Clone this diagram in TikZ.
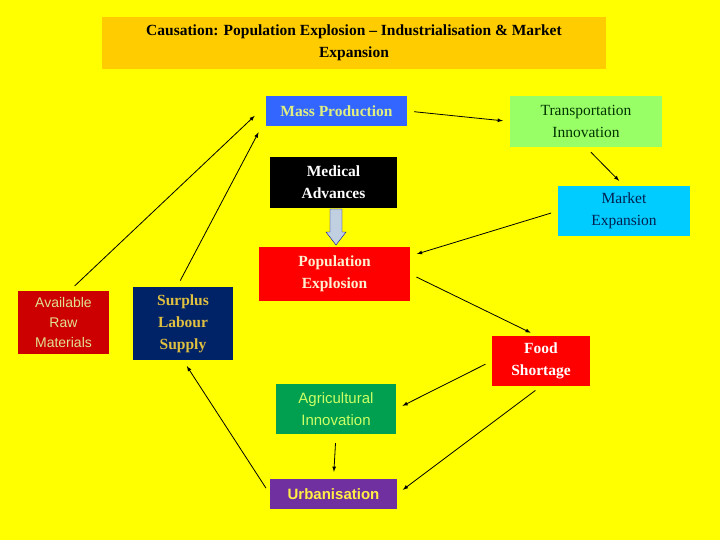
\documentclass[tikz,border=0pt]{standalone}
\usepackage{fontspec}
\setmainfont{Liberation Serif}
\setsansfont{Liberation Sans}
\usetikzlibrary{calc}
\definecolor{bgy}{HTML}{FFFF00}
\definecolor{titleor}{HTML}{FFCC00}
\definecolor{massb}{HTML}{3366FF}
\definecolor{masst}{HTML}{E0F080}
\definecolor{transg}{HTML}{99FF66}
\definecolor{transt}{HTML}{003300}
\definecolor{mktc}{HTML}{00CCFF}
\definecolor{mktt}{HTML}{002050}
\definecolor{popr}{HTML}{FF0000}
\definecolor{popt}{HTML}{FFF0D0}
\definecolor{rawr}{HTML}{CC0000}
\definecolor{rawt}{HTML}{E0E090}
\definecolor{surb}{HTML}{002266}
\definecolor{surt}{HTML}{E0C040}
\definecolor{agrig}{HTML}{00A050}
\definecolor{agrit}{HTML}{CCFF66}
\definecolor{urbp}{HTML}{7030A0}
\definecolor{urbt}{HTML}{FFEE44}
\definecolor{grayar}{HTML}{C0D0E0}
\begin{document}
\begin{tikzpicture}[x=1pt,y=-1pt,
  box/.style={inner sep=0pt,align=center,font=\fontsize{15.5}{22}\selectfont},
  conn/.style={-latex,thick,shorten >=7pt,shorten <=7pt}]
\fill[bgy] (0,0) rectangle (720,540);
\node[box,fill=titleor,minimum width=504pt,minimum height=52pt,font=\fontsize{15.5}{22}\selectfont\bfseries] (title) at (354,43) {Causation: Population Explosion -- Industrialisation \& Market\\Expansion};
\node[box,fill=massb,text=masst,minimum width=141pt,minimum height=30pt,font=\fontsize{15.5}{22}\selectfont\bfseries] (mass) at (336.5,111) {Mass Production};
\node[box,fill=transg,text=transt,minimum width=152pt,minimum height=51pt] (trans) at (586,121.5) {Transportation\\Innovation};
\node[box,fill=black,text=white,minimum width=127pt,minimum height=51pt,font=\fontsize{15.5}{22}\selectfont\bfseries] (med) at (333.5,182.5) {Medical\\Advances};
\node[box,fill=mktc,text=mktt,minimum width=132pt,minimum height=50pt] (mkt) at (624,211) {Market\\Expansion};
\node[box,fill=popr,text=popt,minimum width=151pt,minimum height=54pt,font=\fontsize{15.5}{22}\selectfont\bfseries] (pop) at (334.5,274) {Population\\Explosion};
\node[box,fill=rawr,text=rawt,minimum width=91pt,minimum height=63pt,font=\fontsize{14}{20}\selectfont\sffamily] (raw) at (63.5,322.5) {Available\\Raw\\Materials};
\node[box,fill=surb,text=surt,minimum width=100pt,minimum height=73pt,font=\fontsize{15.5}{22}\selectfont\bfseries] (sur) at (183,323.5) {Surplus\\Labour\\Supply};
\node[box,fill=popr,text=white,minimum width=98pt,minimum height=50pt,font=\fontsize{15.5}{22}\selectfont\bfseries] (food) at (541,361) {Food\\Shortage};
\node[box,fill=agrig,text=agrit,minimum width=120pt,minimum height=50pt,font=\fontsize{15}{22}\selectfont\sffamily] (agri) at (336,409) {Agricultural\\Innovation};
\node[box,fill=urbp,text=urbt,minimum width=127pt,minimum height=30pt,font=\fontsize{15}{22}\selectfont\sffamily\bfseries] (urb) at (333.5,494) {Urbanisation};
% gray block arrow
\draw[blue!70!black,fill=grayar] (330,209) -- (342,209) -- (342,232) -- (346,232) -- (336,245) -- (326,232) -- (330,232) -- cycle;
% connectors
\draw[conn] (mass.east) -- (trans.west);
\draw[conn] (trans.south) -- (mkt.north);
\draw[conn] (mkt.west) -- ($(pop.east)+(0,-18)$);
\draw[conn] (pop.east) -- ($(food.north)+(-4,0)$);
\draw[conn] (food.west) -- (agri.east);
\draw[conn] (food.south) -- (urb.east);
\draw[conn,shorten <=9pt,shorten >=7pt] (agri.south) -- (urb.north);
\draw[conn] (urb.west) -- (sur.south);
\draw[conn] ($(raw.north)+(6,0)$) -- ($(mass.west)+(-6,0)$);
\draw[conn] ($(sur.north)+(-6,0)$) -- ($(mass.south west)+(-4,0)$);
\end{tikzpicture}
\end{document}
